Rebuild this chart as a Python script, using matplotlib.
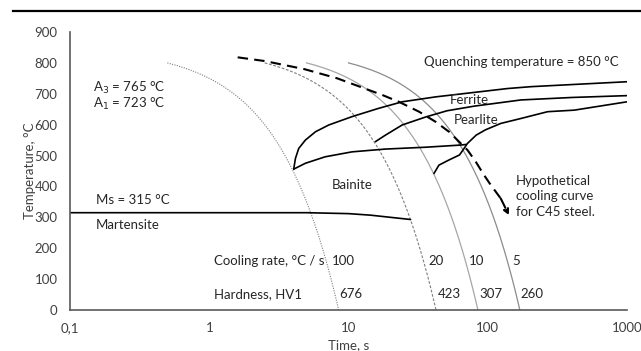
import numpy as np
import matplotlib
matplotlib.use("Agg")
import matplotlib.pyplot as plt
from matplotlib.lines import Line2D
from matplotlib.ticker import FixedLocator, FixedFormatter, NullLocator

plt.rcParams['font.family'] = ['Lato', 'DejaVu Sans']

# quenching / start temperature of the constant-rate cooling lines
quench_temp = 850
cool_start_temp = 800
cooling_rates = [100, 20, 10, 5]
hardness = [676, 423, 307, 260]

# hypothetical C45 cooling curve
c45_time = [1.6, 2.5, 4.8, 8.3, 17.5, 23, 32.1, 42.3, 52.7, 62.2, 71.5, 82, 94, 105, 124, 142]
c45_temp = [818, 806, 780, 750, 696, 674, 642, 609, 577, 545, 518, 480, 437, 405, 361, 307]

# transformation boundaries
ferrite_time = [4.04, 4.16, 4.39, 4.9, 5.79, 7.22, 10.6, 16.5, 24.3, 42.3, 139, 204, 1000]
ferrite_temp = [456, 491, 523, 550, 577, 599, 626, 653, 674, 690, 717, 723, 739]

pearlite_time = [15.6, 18.4, 24.3, 35.9, 51, 80, 173, 400, 1000]
pearlite_temp = [545, 566, 599, 625, 645, 660, 680, 688, 694]

pearlite_end_time = [41.1, 44.6, 52.3, 62.7, 67.6, 71.4, 82.5, 96, 124, 173, 269, 418, 1000]
pearlite_end_temp = [442, 469, 485, 502, 523, 539, 566, 583, 604, 620, 642, 647, 674]

bainite_time = [4.04, 4.9, 6.8, 10.6, 18.4, 35.9, 64, 69.8]
bainite_temp = [456, 475, 496, 512, 521, 527, 534, 536]

ms_time = [0.1, 5, 10, 14.4, 27.9]
ms_temp = [315, 315, 312, 307, 293]

xticks = [0.1, 1, 10, 100, 1000]
xtick_labels = ['0,1', '1', '10', '100', '1000']
yticks = list(range(0, 1000, 100))

grey = '#595959'
fs = 9.5

fig = plt.figure(figsize=(6.41, 3.51), dpi=100)
ax = fig.add_axes([70 / 641, 1 - 310 / 351, 557 / 641, 278 / 351])

# constant cooling rate lines: T = Tq - rate * t
rate_styles = [
    dict(color='#7f7f7f', lw=0.8, ls=(0, (1, 1.2))),
    dict(color='#7f7f7f', lw=0.8, ls=(0, (2.5, 1.5))),
    dict(color='#a6a6a6', lw=0.9, ls='-'),
    dict(color='#8c8c8c', lw=0.9, ls='-'),
]
temps = np.linspace(cool_start_temp, 0, 200)
for rate, style in zip(cooling_rates, rate_styles):
    ax.plot((quench_temp - temps) / rate, temps, **style)

# phase boundaries
for t, T in [(ferrite_time, ferrite_temp), (pearlite_time, pearlite_temp),
             (pearlite_end_time, pearlite_end_temp), (bainite_time, bainite_temp),
             (ms_time, ms_temp)]:
    ax.plot(t, T, color='black', lw=1.2, solid_joinstyle='round', solid_capstyle='round')

# hypothetical cooling curve with arrow
ax.plot(c45_time[:-1], c45_temp[:-1], color='black', lw=1.5, ls=(0, (5, 3)))
ax.annotate('', xy=(c45_time[-1], c45_temp[-1]), xytext=(c45_time[-2], c45_temp[-2]),
            arrowprops=dict(arrowstyle='-|>', color='black', lw=1.5,
                            linestyle=(0, (5, 3)), mutation_scale=8,
                            shrinkA=0, shrinkB=0))

ax.set_xscale('log')
ax.set_xlim(0.1, 1000)
ax.set_ylim(0, 900)
ax.xaxis.set_major_locator(FixedLocator(xticks))
ax.xaxis.set_major_formatter(FixedFormatter(xtick_labels))
ax.xaxis.set_minor_locator(NullLocator())
ax.set_yticks(yticks)
ax.tick_params(length=0, labelsize=fs, colors=grey, labelcolor='#404040')
ax.tick_params(axis='y', pad=9)
ax.tick_params(axis='x', pad=9)
for side in ['top', 'right']:
    ax.spines[side].set_visible(False)
for side in ['left', 'bottom']:
    ax.spines[side].set_color(grey)
    ax.spines[side].set_linewidth(1.2)

ax.set_xlabel('Time, s', fontsize=fs, color='#404040', labelpad=3)
ax.set_ylabel('Temperature, °C', fontsize=fs, color='#404040')
ax.yaxis.set_label_coords(-0.061, 0.5)

txt = dict(fontsize=fs, color='#262626', va='center', ha='left')
ax.text(0.146, 718, 'A$_3$ = 765 °C', **txt)
ax.text(0.146, 667, 'A$_1$ = 723 °C', **txt)
ax.text(34.7, 804, 'Quenching temperature = 850 °C', **txt)
ax.text(53.3, 680, 'Ferrite', **txt)
ax.text(56.9, 615, 'Pearlite', **txt)
ax.text(7.55, 405, 'Bainite', **txt)
ax.text(159, 369, 'Hypothetical\ncooling curve\nfor C45 steel.', linespacing=1.35, **txt)
ax.text(0.154, 356, 'Ms = 315 °C', **txt)
ax.text(0.154, 275, 'Martensite', **txt)
ax.text(1.074, 160, 'Cooling rate, °C / s', **txt)
ax.text(1.074, 51, 'Hardness, HV1', **txt)

rate_label_x = [7.55, 37.2, 73.5, 150.7]
hv_label_x = [8.65, 43.8, 86.5, 172.6]
for x, r in zip(rate_label_x, cooling_rates):
    ax.text(x, 160, str(r), **txt)
for x, h in zip(hv_label_x, hardness):
    ax.text(x, 51, str(h), **txt)

# heavy rule across the top of the figure
fig.add_artist(Line2D([13 / 641, 1], [1 - 11 / 351] * 2, color='black', lw=1.6,
                      transform=fig.transFigure))

fig.savefig('out.png', dpi=100)
